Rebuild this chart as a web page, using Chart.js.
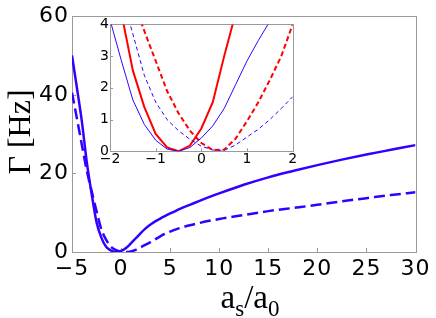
<!DOCTYPE html>
<html>
<head>
<meta charset="utf-8">
<script src="https://cdn.jsdelivr.net/npm/chart.js@4.4.0/dist/chart.umd.min.js"></script>
<style>
  html, body { margin: 0; padding: 0; background: #fff; }
  #wrap { position: relative; width: 436px; height: 318px; }
  #main { position: absolute; left: 0; top: 0; width: 436px; height: 318px; }
  #inset { position: absolute; left: 88px; top: 15px; width: 215px; height: 155px; }
</style>
</head>
<body>
<div id="wrap">
  <canvas id="main" width="436" height="318"></canvas>
  <canvas id="inset" width="215" height="155"></canvas>
</div>
<script>
// main plot data (a_s/a_0 vs Gamma in Hz)
const mainX = [-5, -4.5, -4, -3.5, -3, -2.5, -2, -1.5, -1, -0.5, 0, 0.5, 1, 1.5, 2, 2.5, 3, 4, 5, 6, 7, 8, 10, 12.5, 15, 17.5, 20, 22.5, 25, 27.5, 30];
const mainSolid = [50, 41.8, 33.3, 23, 14.8, 7.6, 3.6, 1.25, 0.35, 0.02, 0.25, 1.0, 2.2, 3.5, 4.8, 6.0, 7.0, 8.5, 9.8, 11.0, 12.0, 13.0, 14.9, 17.1, 19.0, 20.6, 22.1, 23.5, 24.8, 26.0, 27.2];
const mainDashed = [40.5, 34, 27.3, 20.8, 15.5, 10.4, 5.7, 3.0, 1.25, 0.5, 0.15, 0.0, 0.15, 0.55, 1.2, 1.85, 2.5, 4.0, 5.2, 6.1, 6.8, 7.4, 8.4, 9.4, 10.4, 11.2, 12.0, 12.9, 13.7, 14.5, 15.2];
const mainXTicks = [-5, 0, 5, 10, 15, 20, 25, 30];
const mainYTicks = [0, 20, 40, 60];

// inset data
const insetX = [-2, -1.75, -1.5, -1.25, -1, -0.75, -0.5, -0.25, 0, 0.25, 0.5, 0.75, 1, 1.25, 1.5, 1.75, 2];
const insetRedSolid = [null, 4.35, 2.55, 1.4, 0.55, 0.12, 0, 0.18, 0.72, 1.55, 3.0, 4.35, null, null, null, null, null];
const insetRedDashed = [null, null, 4.8, 3.8, 2.85, 1.9, 1.2, 0.65, 0.26, 0.04, 0.05, 0.4, 0.95, 1.55, 2.25, 3.0, 4.0];
const insetBlueSolid = [4.15, 2.85, 1.62, 0.85, 0.35, 0.07, 0, 0.12, 0.42, 0.8, 1.35, 2.1, 2.85, 3.5, 4.1, null, null];
const insetBlueDashed = [null, 5.0, 3.7, 2.4, 1.55, 1.0, 0.65, 0.38, 0.16, 0.04, 0.03, 0.2, 0.45, 0.7, 1.0, 1.35, 1.72];
const insetXTicks = [-2, -1, 0, 1, 2];
const insetYTicks = [0, 1, 2, 3, 4];

const BLUE = 'rgb(51,0,255)';
const RED = 'rgb(255,0,0)';
const FRAME = '#9a9a9a';

const pts = (xs, ys) => xs.map((x, i) => ({ x: x, y: ys[i] }));
const minus = v => (v < 0 ? '\u2212' + Math.abs(v) : String(v));

// frame box + inward ticks, and letter spacing for tick labels
const framePlugin = {
    id: 'frame',
    beforeDraw(chart, args, opts) {
        chart.ctx.letterSpacing = opts.spacing || '0px';
    },
    beforeDatasetsDraw(chart, args, opts) {
        const { ctx, chartArea: a } = chart;
        const xs = chart.scales.x, ys = chart.scales.y;
        ctx.save();
        ctx.strokeStyle = FRAME;
        ctx.lineWidth = 1;
        ctx.strokeRect(Math.round(a.left) + 0.5, Math.round(a.top) + 0.5,
            Math.round(a.right - a.left), Math.round(a.bottom - a.top));
        ctx.beginPath();
        xs.ticks.forEach(t => {
            const px = Math.round(xs.getPixelForValue(t.value)) + 0.5;
            ctx.moveTo(px, a.bottom);
            ctx.lineTo(px, a.bottom - opts.tick);
        });
        ys.ticks.forEach(t => {
            const py = Math.round(ys.getPixelForValue(t.value)) + 0.5;
            ctx.moveTo(a.left, py);
            ctx.lineTo(a.left + opts.tick, py);
        });
        ctx.stroke();
        ctx.restore();
    }
};

// axis titles of the main plot (x title needs subscripts)
const titlePlugin = {
    id: 'axisTitles',
    afterDraw(chart) {
        const ctx = chart.ctx;
        ctx.save();
        ctx.letterSpacing = '0px';
        ctx.fillStyle = '#000';
        ctx.textBaseline = 'alphabetic';

        const big = '33px "Liberation Serif"';
        const small = '23px "Liberation Serif"';
        const parts = [['a', big, 0], ['s', small, 8], ['/a', big, 0], ['0', small, 8]];
        let total = 0;
        parts.forEach(p => { ctx.font = p[1]; total += ctx.measureText(p[0]).width; });
        let x = 250 - total / 2;
        ctx.textAlign = 'left';
        parts.forEach(p => {
            ctx.font = p[1];
            ctx.fillText(p[0], x, 308 + p[2]);
            x += ctx.measureText(p[0]).width;
        });

        ctx.translate(30, 132);
        ctx.rotate(-Math.PI / 2);
        ctx.textAlign = 'center';
        ctx.font = '32px "Liberation Serif"';
        ctx.fillText('\u0393 [Hz]', 0, 0);
        ctx.restore();
    }
};

new Chart(document.getElementById('main'), {
    type: 'line',
    data: {
        datasets: [
            { data: pts(mainX, mainSolid), borderColor: BLUE, borderWidth: 2.5, pointRadius: 0, cubicInterpolationMode: 'monotone', fill: false },
            { data: pts(mainX, mainDashed), borderColor: BLUE, borderWidth: 2.5, borderDash: [11, 5], pointRadius: 0, cubicInterpolationMode: 'monotone', fill: false }
        ]
    },
    options: {
        responsive: false,
        animation: false,
        events: [],
        layout: { padding: { top: 13, right: 20.5, left: 0, bottom: 0 } },
        plugins: {
            legend: { display: false },
            tooltip: { enabled: false },
            frame: { tick: 4, spacing: '1px' }
        },
        scales: {
            x: {
                type: 'linear', min: -5, max: 30,
                afterBuildTicks: s => { s.ticks = mainXTicks.map(v => ({ value: v })); },
                afterFit: s => { s.height = 66; },
                grid: { display: false, drawTicks: false },
                border: { display: false },
                ticks: { color: '#000', padding: 4, maxRotation: 0, autoSkip: false,
                    font: { family: '"DejaVu Sans"', size: 22 }, callback: v => minus(v) }
            },
            y: {
                type: 'linear', min: 0, max: 60,
                afterBuildTicks: s => { s.ticks = mainYTicks.map(v => ({ value: v })); },
                afterFit: s => { s.width = 72; },
                grid: { display: false, drawTicks: false },
                border: { display: false },
                ticks: { color: '#000', padding: 3, autoSkip: false,
                    font: { family: '"DejaVu Sans"', size: 22 }, callback: v => minus(v) }
            }
        }
    },
    plugins: [framePlugin, titlePlugin]
});

new Chart(document.getElementById('inset'), {
    type: 'line',
    data: {
        datasets: [
            { data: pts(insetX, insetBlueSolid), borderColor: BLUE, borderWidth: 1, pointRadius: 0, tension: 0 },
            { data: pts(insetX, insetBlueDashed), borderColor: BLUE, borderWidth: 1, borderDash: [4, 3], pointRadius: 0, tension: 0 },
            { data: pts(insetX, insetRedSolid), borderColor: RED, borderWidth: 2, pointRadius: 0, tension: 0 },
            { data: pts(insetX, insetRedDashed), borderColor: RED, borderWidth: 2, borderDash: [5, 3], pointRadius: 0, tension: 0 }
        ]
    },
    options: {
        responsive: false,
        animation: false,
        events: [],
        layout: { padding: { top: 8, right: 10.3, left: 0, bottom: 0 } },
        plugins: {
            legend: { display: false },
            tooltip: { enabled: false },
            frame: { tick: 3, spacing: '0px' }
        },
        scales: {
            x: {
                type: 'linear', min: -2, max: 2,
                afterBuildTicks: s => { s.ticks = insetXTicks.map(v => ({ value: v })); },
                afterFit: s => { s.height = 18.7; },
                grid: { display: false, drawTicks: false },
                border: { display: false },
                ticks: { color: '#000', padding: 0, maxRotation: 0, autoSkip: false,
                    font: { family: '"DejaVu Sans"', size: 14 }, callback: v => minus(v) }
            },
            y: {
                type: 'linear', min: 0, max: 4,
                afterBuildTicks: s => { s.ticks = insetYTicks.map(v => ({ value: v })); },
                afterFit: s => { s.width = 22; },
                grid: { display: false, drawTicks: false },
                border: { display: false },
                ticks: { color: '#000', padding: 1, autoSkip: false,
                    font: { family: '"DejaVu Sans"', size: 14 }, callback: v => minus(v) }
            }
        }
    },
    plugins: [framePlugin]
});
</script>
</body>
</html>
